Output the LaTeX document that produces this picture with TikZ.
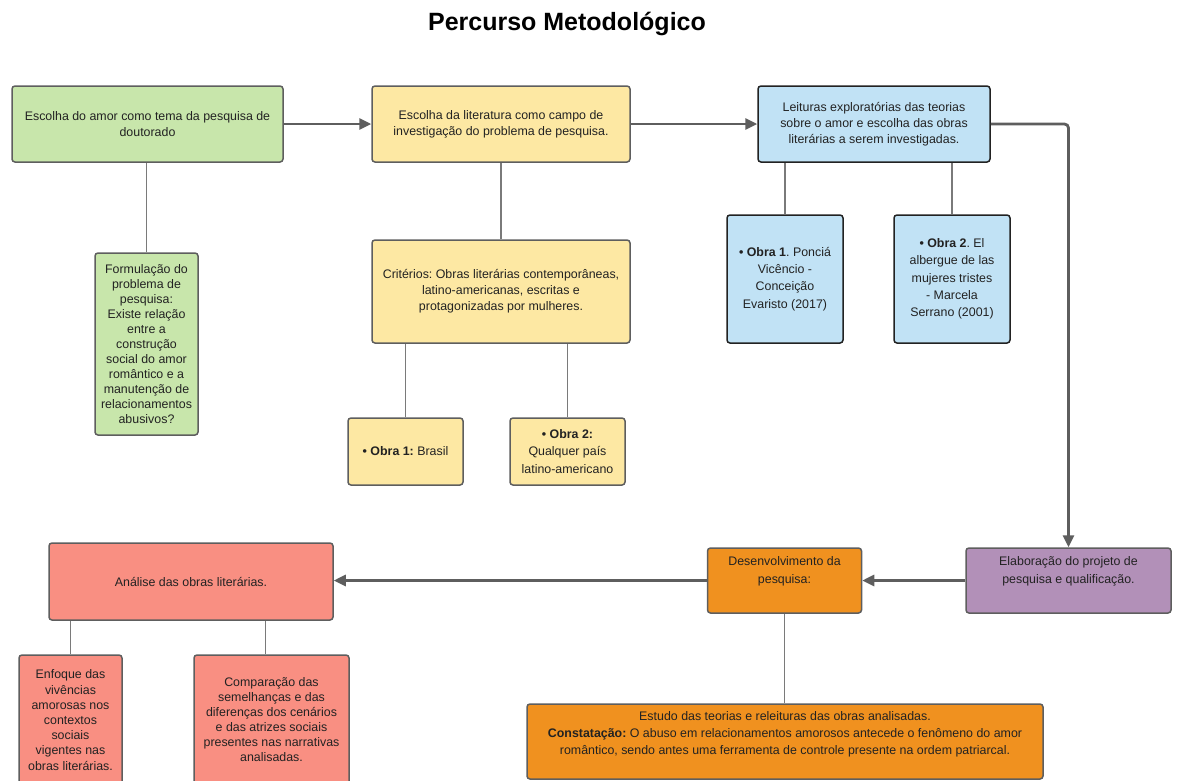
\documentclass[tikz,border=0pt]{standalone}
\usepackage{fontspec}
\setmainfont{Liberation Sans}
\usetikzlibrary{positioning,arrows.meta}
\frenchspacing

\definecolor{verde}{HTML}{C8E6AB}
\definecolor{amarelo}{HTML}{FDE8A3}
\definecolor{azul}{HTML}{C1E2F5}
\definecolor{lilas}{HTML}{B290B8}
\definecolor{laranja}{HTML}{F0911F}
\definecolor{salmao}{HTML}{F98F82}
\definecolor{borda}{HTML}{5E5E5E}
\definecolor{escura}{HTML}{222222}
\definecolor{seta}{HTML}{5E5E5E}
\definecolor{fio}{HTML}{7A7A7A}
\definecolor{texto}{HTML}{222222}

\begin{document}
\begin{tikzpicture}[x=1pt,y=-1pt,
  box/.style={rectangle,rounded corners=3pt,draw=#1,line width=1.5pt,inner sep=0pt,align=center,text=texto,font=\fontsize{12.4}{16}\selectfont},
  box/.default=borda,
  txt/.style={inner sep=0pt,align=center,text=texto,font=\fontsize{12.4}{18}\selectfont},
  flow/.style={draw=seta,line width=2.8pt,-{Triangle[length=12pt,width=11pt]}},
  link/.style={draw=fio,line width=1.3pt}]
  \useasboundingbox (0,0) rectangle (1179,780);
  \fill[white] (0,0) rectangle (1179,780);

  \node[font=\fontsize{25}{30}\selectfont\bfseries] (titulo) at (567,24) {Percurso Metodológico};

  % linha de cima
  \node[box,fill=verde,minimum width=271pt,minimum height=76pt] (tema) at (147.5,124) {Escolha do amor como tema da pesquisa de\\doutorado};
  \node[box,fill=amarelo,minimum width=258pt,minimum height=76pt] (literatura) at (501,124) {Escolha da literatura como campo de\\investigação do problema de pesquisa.};
  \node[box=escura,fill=azul,minimum width=232pt,minimum height=76pt] (leituras) at (874,124) {Leituras exploratórias das teorias\\sobre o amor e escolha das obras\\literárias a serem investigadas.};

  \node[box,fill=verde,minimum width=103pt,minimum height=182pt,font=\fontsize{12.4}{15}\selectfont] (problema) at (146.5,344) {Formulação do\\problema de\\pesquisa:\\Existe relação\\entre a\\construção\\social do amor\\romântico e a\\manutenção de\\relacionamentos\\abusivos?};
  \node[box,fill=amarelo,minimum width=258pt,minimum height=103pt] (criterios) at (501,291.5) {Critérios: Obras literárias contemporâneas,\\latino-americanas, escritas e\\protagonizadas por mulheres.};
  \node[box,fill=amarelo,minimum width=115pt,minimum height=67pt] (brasil) at (405.5,451.5) {\textbf{• Obra 1:} Brasil};
  \node[box,fill=amarelo,minimum width=115pt,minimum height=67pt,font=\fontsize{12.4}{17.5}\selectfont] (latino) at (567.5,451.5) {\textbf{• Obra 2:}\\Qualquer país\\latino-americano};
  \node[box=escura,fill=azul,minimum width=116pt,minimum height=128pt,font=\fontsize{12.4}{17.3}\selectfont] (obra1) at (785,279) {\textbf{• Obra 1}. Ponciá\\Vicêncio -\\Conceição\\Evaristo (2017)};
  \node[box=escura,fill=azul,minimum width=116pt,minimum height=128pt,font=\fontsize{12.4}{17.3}\selectfont] (obra2) at (952,279) {\textbf{• Obra 2}. El\\albergue de las\\mujeres tristes\\- Marcela\\Serrano (2001)};

  % linha de baixo
  \node[box,fill=lilas,minimum width=205pt,minimum height=65pt] (projeto) at (1068.5,580.5) {};
  \node[txt] (projetotxt) at ([yshift=-24pt]projeto.north) {Elaboração do projeto de\\pesquisa e qualificação.};
  \node[box,fill=laranja,minimum width=154pt,minimum height=65pt] (desenv) at (784.5,580.5) {};
  \node[txt] (desenvtxt) at ([yshift=-24pt]desenv.north) {Desenvolvimento da\\pesquisa:};
  \node[box,fill=salmao,minimum width=284pt,minimum height=77pt] (analise) at (191,581.5) {Análise das obras literárias.};
  \node[box,fill=salmao,minimum width=103pt,minimum height=130pt,font=\fontsize{12.4}{15.2}\selectfont] (enfoque) at (70.5,720) {Enfoque das\\vivências\\amorosas nos\\contextos\\sociais\\vigentes nas\\obras literárias.};
  \node[box,fill=salmao,minimum width=155pt,minimum height=130pt,font=\fontsize{12.4}{15}\selectfont] (comparacao) at (271.5,720) {Comparação das\\semelhanças e das\\diferenças dos cenários\\e das atrizes sociais\\presentes nas narrativas\\analisadas.};
  \node[box,fill=laranja,minimum width=516pt,minimum height=75pt] (estudo) at (785,741.5) {};
  \node[txt,font=\fontsize{12.4}{17}\selectfont] (estudotxt) at ([yshift=-31pt]estudo.north) {Estudo das teorias e releituras das obras analisadas.\\\textbf{Constatação:} O abuso em relacionamentos amorosos antecede o fenômeno do amor\\romântico, sendo antes uma ferramenta de controle presente na ordem patriarcal.};

  % setas
  \draw[flow] (tema.east) -- (literatura.west);
  \draw[flow] (literatura.east) -- (leituras.west);
  \draw[flow,rounded corners=4pt] (leituras.east) -| (projeto.north);
  \draw[flow] (projeto.west) -- (desenv.east);
  \draw[flow] (desenv.west) -- (desenv.west -| analise.east);

  % ligacoes
  \draw[link] (problema.north) -- (problema.north |- tema.south);
  \draw[link] (criterios.north) -- (literatura.south);
  \draw[link] (brasil.north) -- (brasil.north |- criterios.south);
  \draw[link] (latino.north) -- (latino.north |- criterios.south);
  \draw[link] (obra1.north) -- (obra1.north |- leituras.south);
  \draw[link] (obra2.north) -- (obra2.north |- leituras.south);
  \draw[link] (enfoque.north) -- (enfoque.north |- analise.south);
  \draw[link] ([xshift=-6pt]comparacao.north) -- ([xshift=-6pt]comparacao.north |- analise.south);
  \draw[link] (desenv.south) -- (desenv.south |- estudo.north);
\end{tikzpicture}
\end{document}
